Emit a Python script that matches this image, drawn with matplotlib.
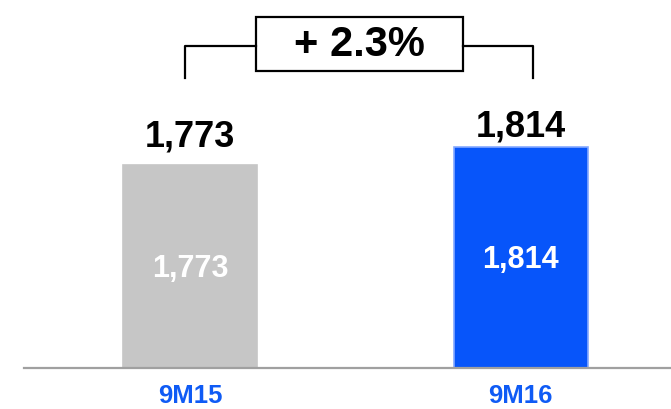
import matplotlib.pyplot as plt
from matplotlib.patches import Rectangle

plt.rcParams['font.family'] = ['Liberation Sans', 'DejaVu Sans']

periods = ["9M15", "9M16"]
values = [1773, 1814]
labels = ["1,773", "1,814"]
change_label = "+ 2.3%"

bar_colors = ["#c6c6c6", "#0755fa"]
edge_colors = ["#c6c6c6", "#85a9ff"]
label_offsets = [19, 12]  # px gap between bar top and value text

fig = plt.figure(figsize=(6.71, 4.10), dpi=100)
ax = fig.add_axes([24 / 671, 41 / 410, 647 / 671, 369 / 410])

x = [0, 1]
bw = 0.405
ax.bar(x, values, bw, color=bar_colors, edgecolor=edge_colors, linewidth=1.2, zorder=2)

ax.set_xlim(-0.502, 1.455)
ax.set_ylim(1294, 2163)

for i, v in enumerate(values):
    # value above bar
    ax.annotate(labels[i], (x[i], v), xytext=(0, label_offsets[i] * 0.72),
                textcoords="offset points", ha="center", va="baseline",
                fontsize=26, fontweight="bold", color="black")
    # value inside bar
    ax.text(x[i], (v + 1294) / 2 - 3, labels[i], ha="center", va="center",
            fontsize=22, fontweight="bold", color="white", zorder=3)

# bracket with growth box
top_y = 2053
low_y = 1976
ax.plot([-0.015, -0.015, 0.199], [low_y, top_y, top_y], color="black", lw=1.6, clip_on=False)
ax.plot([0.826, 1.039, 1.039], [top_y, top_y, low_y], color="black", lw=1.6, clip_on=False)
ax.add_patch(Rectangle((0.199, 1993), 0.627, 127, fill=False, edgecolor="black",
                       lw=1.6, clip_on=False))
ax.text(0.5125, 2056, change_label, ha="center", va="center", fontsize=30,
        fontweight="bold", color="black")

for s in ["top", "right", "left"]:
    ax.spines[s].set_visible(False)
ax.spines["bottom"].set_color("#a0a0a0")
ax.spines["bottom"].set_linewidth(1.6)
ax.set_yticks([])
ax.set_xticks(x)
ax.set_xticklabels(periods, fontsize=18.5, fontweight="bold", color="#0f5bf5")
ax.tick_params(axis="x", length=0, pad=11)

fig.savefig("out.png", dpi=100)
